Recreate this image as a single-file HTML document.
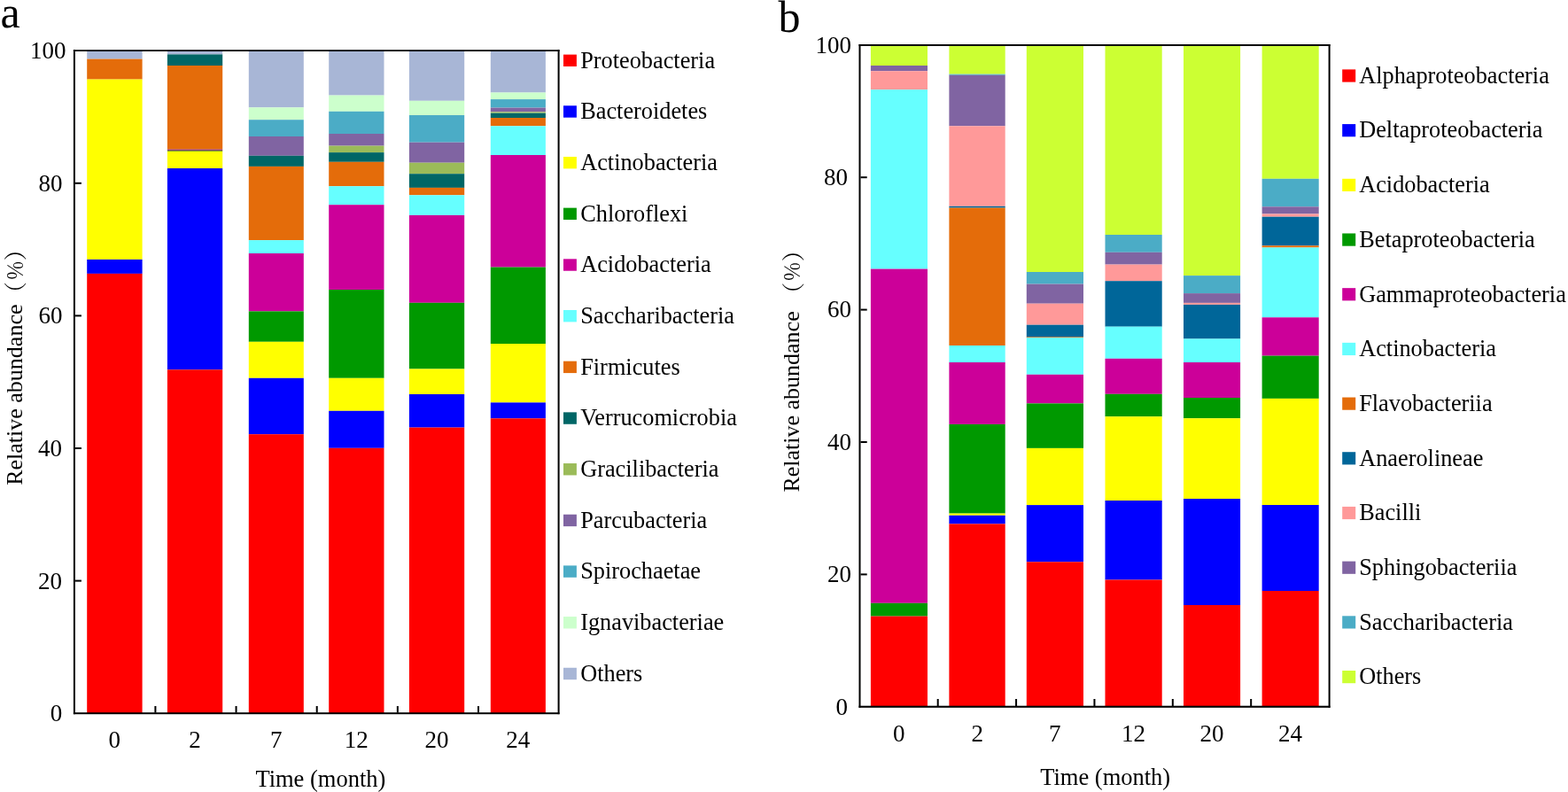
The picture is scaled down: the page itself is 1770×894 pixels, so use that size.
<!DOCTYPE html>
<html><head><meta charset="utf-8"><title>Relative abundance</title>
<style>
html,body{margin:0;padding:0;background:#fff;}
body{width:1770px;height:894px;overflow:hidden;}
svg{display:block;}
text{font-family:"Liberation Serif","Noto Serif CJK SC",serif;fill:#000;}
</style></head><body>
<svg width="1770" height="894" viewBox="0 0 1770 894">
<rect x="0" y="0" width="1770" height="894" fill="#fff"/>
<rect x="98.20" y="57.50" width="62.40" height="9.10" fill="#A8B6D6"/>
<rect x="98.20" y="66.60" width="62.40" height="23.00" fill="#E46C0A"/>
<rect x="98.20" y="89.60" width="62.40" height="203.30" fill="#FFFF00"/>
<rect x="98.20" y="292.90" width="62.40" height="16.00" fill="#0000FF"/>
<rect x="98.20" y="308.90" width="62.40" height="496.10" fill="#FF0000"/>
<rect x="188.90" y="57.50" width="62.30" height="3.90" fill="#A8B6D6"/>
<rect x="188.90" y="61.40" width="62.30" height="12.60" fill="#006666"/>
<rect x="188.90" y="74.00" width="62.30" height="94.60" fill="#E46C0A"/>
<rect x="188.90" y="168.60" width="62.30" height="1.20" fill="#8E1468"/>
<rect x="188.90" y="169.80" width="62.30" height="1.00" fill="#2F6A08"/>
<rect x="188.90" y="170.80" width="62.30" height="19.20" fill="#FFFF00"/>
<rect x="188.90" y="190.00" width="62.30" height="227.30" fill="#0000FF"/>
<rect x="188.90" y="417.30" width="62.30" height="387.70" fill="#FF0000"/>
<rect x="280.80" y="57.50" width="62.00" height="63.80" fill="#A8B6D6"/>
<rect x="280.80" y="121.30" width="62.00" height="13.90" fill="#CCFFCC"/>
<rect x="280.80" y="135.20" width="62.00" height="18.80" fill="#4BACC6"/>
<rect x="280.80" y="154.00" width="62.00" height="21.80" fill="#8064A2"/>
<rect x="280.80" y="175.80" width="62.00" height="12.10" fill="#006666"/>
<rect x="280.80" y="187.90" width="62.00" height="83.20" fill="#E46C0A"/>
<rect x="280.80" y="271.10" width="62.00" height="14.90" fill="#66FFFF"/>
<rect x="280.80" y="286.00" width="62.00" height="65.40" fill="#CC0099"/>
<rect x="280.80" y="351.40" width="62.00" height="34.40" fill="#009900"/>
<rect x="280.80" y="385.80" width="62.00" height="41.00" fill="#FFFF00"/>
<rect x="280.80" y="426.80" width="62.00" height="63.40" fill="#0000FF"/>
<rect x="280.80" y="490.20" width="62.00" height="314.80" fill="#FF0000"/>
<rect x="371.20" y="57.50" width="62.30" height="50.10" fill="#A8B6D6"/>
<rect x="371.20" y="107.60" width="62.30" height="18.20" fill="#CCFFCC"/>
<rect x="371.20" y="125.80" width="62.30" height="25.20" fill="#4BACC6"/>
<rect x="371.20" y="151.00" width="62.30" height="13.60" fill="#8064A2"/>
<rect x="371.20" y="164.60" width="62.30" height="7.50" fill="#9BBB59"/>
<rect x="371.20" y="172.10" width="62.30" height="10.70" fill="#006666"/>
<rect x="371.20" y="182.80" width="62.30" height="27.40" fill="#E46C0A"/>
<rect x="371.20" y="210.20" width="62.30" height="21.00" fill="#66FFFF"/>
<rect x="371.20" y="231.20" width="62.30" height="95.80" fill="#CC0099"/>
<rect x="371.20" y="327.00" width="62.30" height="99.80" fill="#009900"/>
<rect x="371.20" y="426.80" width="62.30" height="37.00" fill="#FFFF00"/>
<rect x="371.20" y="463.80" width="62.30" height="42.00" fill="#0000FF"/>
<rect x="371.20" y="505.80" width="62.30" height="299.20" fill="#FF0000"/>
<rect x="461.90" y="57.50" width="62.30" height="56.30" fill="#A8B6D6"/>
<rect x="461.90" y="113.80" width="62.30" height="16.20" fill="#CCFFCC"/>
<rect x="461.90" y="130.00" width="62.30" height="30.70" fill="#4BACC6"/>
<rect x="461.90" y="160.70" width="62.30" height="23.00" fill="#8064A2"/>
<rect x="461.90" y="183.70" width="62.30" height="12.50" fill="#9BBB59"/>
<rect x="461.90" y="196.20" width="62.30" height="15.70" fill="#006666"/>
<rect x="461.90" y="211.90" width="62.30" height="8.40" fill="#E46C0A"/>
<rect x="461.90" y="220.30" width="62.30" height="22.60" fill="#66FFFF"/>
<rect x="461.90" y="242.90" width="62.30" height="98.90" fill="#CC0099"/>
<rect x="461.90" y="341.80" width="62.30" height="74.70" fill="#009900"/>
<rect x="461.90" y="416.50" width="62.30" height="28.50" fill="#FFFF00"/>
<rect x="461.90" y="445.00" width="62.30" height="37.60" fill="#0000FF"/>
<rect x="461.90" y="482.60" width="62.30" height="322.40" fill="#FF0000"/>
<rect x="553.80" y="57.50" width="62.10" height="47.00" fill="#A8B6D6"/>
<rect x="553.80" y="104.50" width="62.10" height="7.60" fill="#CCFFCC"/>
<rect x="553.80" y="112.10" width="62.10" height="9.50" fill="#4BACC6"/>
<rect x="553.80" y="121.60" width="62.10" height="4.70" fill="#8064A2"/>
<rect x="553.80" y="126.30" width="62.10" height="1.40" fill="#9BBB59"/>
<rect x="553.80" y="127.70" width="62.10" height="5.30" fill="#006666"/>
<rect x="553.80" y="133.00" width="62.10" height="9.30" fill="#E46C0A"/>
<rect x="553.80" y="142.30" width="62.10" height="32.70" fill="#66FFFF"/>
<rect x="553.80" y="175.00" width="62.10" height="126.60" fill="#CC0099"/>
<rect x="553.80" y="301.60" width="62.10" height="86.40" fill="#009900"/>
<rect x="553.80" y="388.00" width="62.10" height="66.40" fill="#FFFF00"/>
<rect x="553.80" y="454.40" width="62.10" height="17.90" fill="#0000FF"/>
<rect x="553.80" y="472.30" width="62.10" height="332.70" fill="#FF0000"/>
<rect x="982.90" y="51.70" width="64.10" height="22.30" fill="#CCFF33"/>
<rect x="982.90" y="74.00" width="64.10" height="6.20" fill="#8064A2"/>
<rect x="982.90" y="80.20" width="64.10" height="21.00" fill="#FF9999"/>
<rect x="982.90" y="101.20" width="64.10" height="202.40" fill="#66FFFF"/>
<rect x="982.90" y="303.60" width="64.10" height="377.20" fill="#CC0099"/>
<rect x="982.90" y="680.80" width="64.10" height="14.80" fill="#009900"/>
<rect x="982.90" y="695.60" width="64.10" height="101.90" fill="#FF0000"/>
<rect x="1071.40" y="51.70" width="63.30" height="32.00" fill="#CCFF33"/>
<rect x="1071.40" y="83.70" width="63.30" height="1.10" fill="#4BACC6"/>
<rect x="1071.40" y="84.80" width="63.30" height="57.50" fill="#8064A2"/>
<rect x="1071.40" y="142.30" width="63.30" height="90.50" fill="#FF9999"/>
<rect x="1071.40" y="232.80" width="63.30" height="1.80" fill="#006699"/>
<rect x="1071.40" y="234.60" width="63.30" height="155.40" fill="#E46C0A"/>
<rect x="1071.40" y="390.00" width="63.30" height="19.00" fill="#66FFFF"/>
<rect x="1071.40" y="409.00" width="63.30" height="69.90" fill="#CC0099"/>
<rect x="1071.40" y="478.90" width="63.30" height="100.70" fill="#009900"/>
<rect x="1071.40" y="579.60" width="63.30" height="2.20" fill="#FFFF00"/>
<rect x="1071.40" y="581.80" width="63.30" height="9.60" fill="#0000FF"/>
<rect x="1071.40" y="591.40" width="63.30" height="206.10" fill="#FF0000"/>
<rect x="1158.80" y="51.70" width="64.20" height="255.30" fill="#CCFF33"/>
<rect x="1158.80" y="307.00" width="64.20" height="13.60" fill="#4BACC6"/>
<rect x="1158.80" y="320.60" width="64.20" height="22.10" fill="#8064A2"/>
<rect x="1158.80" y="342.70" width="64.20" height="24.00" fill="#FF9999"/>
<rect x="1158.80" y="366.70" width="64.20" height="13.90" fill="#006699"/>
<rect x="1158.80" y="380.40" width="64.20" height="1.00" fill="#E46C0A"/>
<rect x="1158.80" y="381.20" width="64.20" height="41.60" fill="#66FFFF"/>
<rect x="1158.80" y="422.80" width="64.20" height="32.60" fill="#CC0099"/>
<rect x="1158.80" y="455.40" width="64.20" height="50.50" fill="#009900"/>
<rect x="1158.80" y="505.90" width="64.20" height="64.20" fill="#FFFF00"/>
<rect x="1158.80" y="570.10" width="64.20" height="64.20" fill="#0000FF"/>
<rect x="1158.80" y="634.30" width="64.20" height="163.20" fill="#FF0000"/>
<rect x="1247.50" y="51.70" width="64.20" height="213.30" fill="#CCFF33"/>
<rect x="1247.50" y="265.00" width="64.20" height="19.80" fill="#4BACC6"/>
<rect x="1247.50" y="284.80" width="64.20" height="13.80" fill="#8064A2"/>
<rect x="1247.50" y="298.60" width="64.20" height="18.60" fill="#FF9999"/>
<rect x="1247.50" y="317.20" width="64.20" height="51.50" fill="#006699"/>
<rect x="1247.50" y="368.70" width="64.20" height="36.10" fill="#66FFFF"/>
<rect x="1247.50" y="404.80" width="64.20" height="40.00" fill="#CC0099"/>
<rect x="1247.50" y="444.80" width="64.20" height="25.40" fill="#009900"/>
<rect x="1247.50" y="470.20" width="64.20" height="94.80" fill="#FFFF00"/>
<rect x="1247.50" y="565.00" width="64.20" height="89.50" fill="#0000FF"/>
<rect x="1247.50" y="654.50" width="64.20" height="143.00" fill="#FF0000"/>
<rect x="1336.00" y="51.70" width="64.10" height="259.40" fill="#CCFF33"/>
<rect x="1336.00" y="311.10" width="64.10" height="20.00" fill="#4BACC6"/>
<rect x="1336.00" y="331.10" width="64.10" height="10.80" fill="#8064A2"/>
<rect x="1336.00" y="341.90" width="64.10" height="2.00" fill="#FF9999"/>
<rect x="1336.00" y="343.90" width="64.10" height="38.60" fill="#006699"/>
<rect x="1336.00" y="382.50" width="64.10" height="26.50" fill="#66FFFF"/>
<rect x="1336.00" y="409.00" width="64.10" height="40.00" fill="#CC0099"/>
<rect x="1336.00" y="449.00" width="64.10" height="23.20" fill="#009900"/>
<rect x="1336.00" y="472.20" width="64.10" height="90.80" fill="#FFFF00"/>
<rect x="1336.00" y="563.00" width="64.10" height="120.00" fill="#0000FF"/>
<rect x="1336.00" y="683.00" width="64.10" height="114.50" fill="#FF0000"/>
<rect x="1424.60" y="51.70" width="64.10" height="150.10" fill="#CCFF33"/>
<rect x="1424.60" y="201.80" width="64.10" height="31.50" fill="#4BACC6"/>
<rect x="1424.60" y="233.30" width="64.10" height="8.20" fill="#8064A2"/>
<rect x="1424.60" y="241.50" width="64.10" height="3.20" fill="#FF9999"/>
<rect x="1424.60" y="244.70" width="64.10" height="32.60" fill="#006699"/>
<rect x="1424.60" y="277.30" width="64.10" height="2.10" fill="#E46C0A"/>
<rect x="1424.60" y="279.40" width="64.10" height="78.90" fill="#66FFFF"/>
<rect x="1424.60" y="358.30" width="64.10" height="43.30" fill="#CC0099"/>
<rect x="1424.60" y="401.60" width="64.10" height="48.30" fill="#009900"/>
<rect x="1424.60" y="449.90" width="64.10" height="120.10" fill="#FFFF00"/>
<rect x="1424.60" y="570.00" width="64.10" height="97.00" fill="#0000FF"/>
<rect x="1424.60" y="667.00" width="64.10" height="130.50" fill="#FF0000"/>
<rect x="82.90" y="56.20" width="2.00" height="750.00" fill="#000"/>
<rect x="82.90" y="56.20" width="548.60" height="1.80" fill="#000"/>
<rect x="629.60" y="56.20" width="2.00" height="750.00" fill="#000"/>
<rect x="82.90" y="804.20" width="548.60" height="2.00" fill="#000"/>
<rect x="84.90" y="654.60" width="7.00" height="2.00" fill="#000"/>
<rect x="84.90" y="505.00" width="7.00" height="2.00" fill="#000"/>
<rect x="84.90" y="355.40" width="7.00" height="2.00" fill="#000"/>
<rect x="84.90" y="205.80" width="7.00" height="2.00" fill="#000"/>
<rect x="174.40" y="797.00" width="2.00" height="7.50" fill="#000"/>
<rect x="265.55" y="797.00" width="2.00" height="7.50" fill="#000"/>
<rect x="356.70" y="797.00" width="2.00" height="7.50" fill="#000"/>
<rect x="447.85" y="797.00" width="2.00" height="7.50" fill="#000"/>
<rect x="539.00" y="797.00" width="2.00" height="7.50" fill="#000"/>
<rect x="969.50" y="50.00" width="2.00" height="748.80" fill="#000"/>
<rect x="969.50" y="50.00" width="532.00" height="1.90" fill="#000"/>
<rect x="1499.60" y="50.00" width="2.00" height="748.80" fill="#000"/>
<rect x="969.50" y="796.70" width="532.00" height="2.10" fill="#000"/>
<rect x="971.50" y="647.40" width="7.20" height="2.00" fill="#000"/>
<rect x="971.50" y="498.00" width="7.20" height="2.00" fill="#000"/>
<rect x="971.50" y="348.60" width="7.20" height="2.00" fill="#000"/>
<rect x="971.50" y="199.20" width="7.20" height="2.00" fill="#000"/>
<rect x="1057.70" y="789.00" width="2.00" height="8.00" fill="#000"/>
<rect x="1146.07" y="789.00" width="2.00" height="8.00" fill="#000"/>
<rect x="1234.44" y="789.00" width="2.00" height="8.00" fill="#000"/>
<rect x="1322.81" y="789.00" width="2.00" height="8.00" fill="#000"/>
<rect x="1411.18" y="789.00" width="2.00" height="8.00" fill="#000"/>
<text x="70.30" y="814.10" font-size="27" text-anchor="end">0</text>
<text x="70.10" y="664.50" font-size="27" text-anchor="end">20</text>
<text x="70.10" y="514.90" font-size="27" text-anchor="end">40</text>
<text x="70.40" y="365.30" font-size="27" text-anchor="end">60</text>
<text x="70.60" y="215.70" font-size="27" text-anchor="end">80</text>
<text x="74.50" y="66.10" font-size="27" text-anchor="end">100</text>
<text x="129.20" y="843.80" font-size="27" text-anchor="middle">0</text>
<text x="219.90" y="843.80" font-size="27" text-anchor="middle">2</text>
<text x="311.80" y="843.80" font-size="27" text-anchor="middle">7</text>
<text x="402.20" y="843.80" font-size="27" text-anchor="middle">12</text>
<text x="492.90" y="843.80" font-size="27" text-anchor="middle">20</text>
<text x="584.80" y="843.80" font-size="27" text-anchor="middle">24</text>
<text x="957.00" y="806.60" font-size="27" text-anchor="end">0</text>
<text x="961.00" y="657.20" font-size="27" text-anchor="end">20</text>
<text x="961.00" y="507.80" font-size="27" text-anchor="end">40</text>
<text x="961.00" y="358.40" font-size="27" text-anchor="end">60</text>
<text x="957.00" y="209.00" font-size="27" text-anchor="end">80</text>
<text x="961.10" y="59.60" font-size="27" text-anchor="end">100</text>
<text x="1014.85" y="837.20" font-size="27" text-anchor="middle">0</text>
<text x="1103.35" y="837.20" font-size="27" text-anchor="middle">2</text>
<text x="1190.75" y="837.20" font-size="27" text-anchor="middle">7</text>
<text x="1279.45" y="837.20" font-size="27" text-anchor="middle">12</text>
<text x="1367.95" y="837.20" font-size="27" text-anchor="middle">20</text>
<text x="1456.55" y="837.20" font-size="27" text-anchor="middle">24</text>
<text x="361.90" y="887.60" font-size="26.5" text-anchor="middle">Time (month)</text>
<text x="1247.70" y="885.60" font-size="26.5" text-anchor="middle">Time (month)</text>
<g transform="translate(25.20,547.80) rotate(-90)"><text x="0" y="0" font-size="26">Relative abundance</text><text x="203.80" y="2.2" font-size="26" font-family="'Noto Serif CJK SC',serif">（</text><text x="231.10" y="0" font-size="23" font-family="'Noto Serif CJK SC',serif">％</text><text x="253.50" y="2.2" font-size="26" font-family="'Noto Serif CJK SC',serif">）</text></g>
<g transform="translate(902.40,555.60) rotate(-90)"><text x="0" y="0" font-size="26">Relative abundance</text><text x="210.80" y="2.2" font-size="26" font-family="'Noto Serif CJK SC',serif">（</text><text x="237.50" y="0" font-size="23" font-family="'Noto Serif CJK SC',serif">％</text><text x="260.30" y="2.2" font-size="26" font-family="'Noto Serif CJK SC',serif">）</text></g>
<text x="0.50" y="31.20" font-size="50" text-anchor="start">a</text>
<text x="878.50" y="35.60" font-size="50" text-anchor="start">b</text>
<rect x="636.00" y="61.60" width="14.90" height="13.40" fill="#FF0000"/>
<text x="655.20" y="76.50" font-size="26.3" text-anchor="start">Proteobacteria</text>
<rect x="636.00" y="119.28" width="14.90" height="13.40" fill="#0000FF"/>
<text x="655.20" y="134.18" font-size="26.3" text-anchor="start">Bacteroidetes</text>
<rect x="636.00" y="176.96" width="14.90" height="13.40" fill="#FFFF00"/>
<text x="655.20" y="191.86" font-size="26.3" text-anchor="start">Actinobacteria</text>
<rect x="636.00" y="234.64" width="14.90" height="13.40" fill="#009900"/>
<text x="655.20" y="249.54" font-size="26.3" text-anchor="start">Chloroflexi</text>
<rect x="636.00" y="292.32" width="14.90" height="13.40" fill="#CC0099"/>
<text x="655.20" y="307.22" font-size="26.3" text-anchor="start">Acidobacteria</text>
<rect x="636.00" y="350.00" width="14.90" height="13.40" fill="#66FFFF"/>
<text x="655.20" y="364.90" font-size="26.3" text-anchor="start">Saccharibacteria</text>
<rect x="636.00" y="407.68" width="14.90" height="13.40" fill="#E46C0A"/>
<text x="655.20" y="422.58" font-size="26.3" text-anchor="start">Firmicutes</text>
<rect x="636.00" y="465.36" width="14.90" height="13.40" fill="#006666"/>
<text x="655.20" y="480.26" font-size="26.3" text-anchor="start">Verrucomicrobia</text>
<rect x="636.00" y="523.04" width="14.90" height="13.40" fill="#9BBB59"/>
<text x="655.20" y="537.94" font-size="26.3" text-anchor="start">Gracilibacteria</text>
<rect x="636.00" y="580.72" width="14.90" height="13.40" fill="#8064A2"/>
<text x="655.20" y="595.62" font-size="26.3" text-anchor="start">Parcubacteria</text>
<rect x="636.00" y="638.40" width="14.90" height="13.40" fill="#4BACC6"/>
<text x="655.20" y="653.30" font-size="26.3" text-anchor="start">Spirochaetae</text>
<rect x="636.00" y="696.08" width="14.90" height="13.40" fill="#CCFFCC"/>
<text x="655.20" y="710.98" font-size="26.3" text-anchor="start">Ignavibacteriae</text>
<rect x="636.00" y="753.76" width="14.90" height="13.40" fill="#A8B6D6"/>
<text x="655.20" y="768.66" font-size="26.3" text-anchor="start">Others</text>
<rect x="1515.20" y="78.40" width="15.00" height="14.20" fill="#FF0000"/>
<text x="1534.20" y="93.80" font-size="26.3" text-anchor="start">Alphaproteobacteria</text>
<rect x="1515.20" y="140.09" width="15.00" height="14.20" fill="#0000FF"/>
<text x="1534.20" y="155.49" font-size="26.3" text-anchor="start">Deltaproteobacteria</text>
<rect x="1515.20" y="201.78" width="15.00" height="14.20" fill="#FFFF00"/>
<text x="1534.20" y="217.18" font-size="26.3" text-anchor="start">Acidobacteria</text>
<rect x="1515.20" y="263.47" width="15.00" height="14.20" fill="#009900"/>
<text x="1534.20" y="278.87" font-size="26.3" text-anchor="start">Betaproteobacteria</text>
<rect x="1515.20" y="325.16" width="15.00" height="14.20" fill="#CC0099"/>
<text x="1534.20" y="340.56" font-size="26.3" text-anchor="start">Gammaproteobacteria</text>
<rect x="1515.20" y="386.85" width="15.00" height="14.20" fill="#66FFFF"/>
<text x="1534.20" y="402.25" font-size="26.3" text-anchor="start">Actinobacteria</text>
<rect x="1515.20" y="448.54" width="15.00" height="14.20" fill="#E46C0A"/>
<text x="1534.20" y="463.94" font-size="26.3" text-anchor="start">Flavobacteriia</text>
<rect x="1515.20" y="510.23" width="15.00" height="14.20" fill="#006699"/>
<text x="1534.20" y="525.63" font-size="26.3" text-anchor="start">Anaerolineae</text>
<rect x="1515.20" y="571.92" width="15.00" height="14.20" fill="#FF9999"/>
<text x="1534.20" y="587.32" font-size="26.3" text-anchor="start">Bacilli</text>
<rect x="1515.20" y="633.61" width="15.00" height="14.20" fill="#8064A2"/>
<text x="1534.20" y="649.01" font-size="26.3" text-anchor="start">Sphingobacteriia</text>
<rect x="1515.20" y="695.30" width="15.00" height="14.20" fill="#4BACC6"/>
<text x="1534.20" y="710.70" font-size="26.3" text-anchor="start">Saccharibacteria</text>
<rect x="1515.20" y="756.99" width="15.00" height="14.20" fill="#CCFF33"/>
<text x="1534.20" y="772.39" font-size="26.3" text-anchor="start">Others</text>
</svg>
</body></html>
